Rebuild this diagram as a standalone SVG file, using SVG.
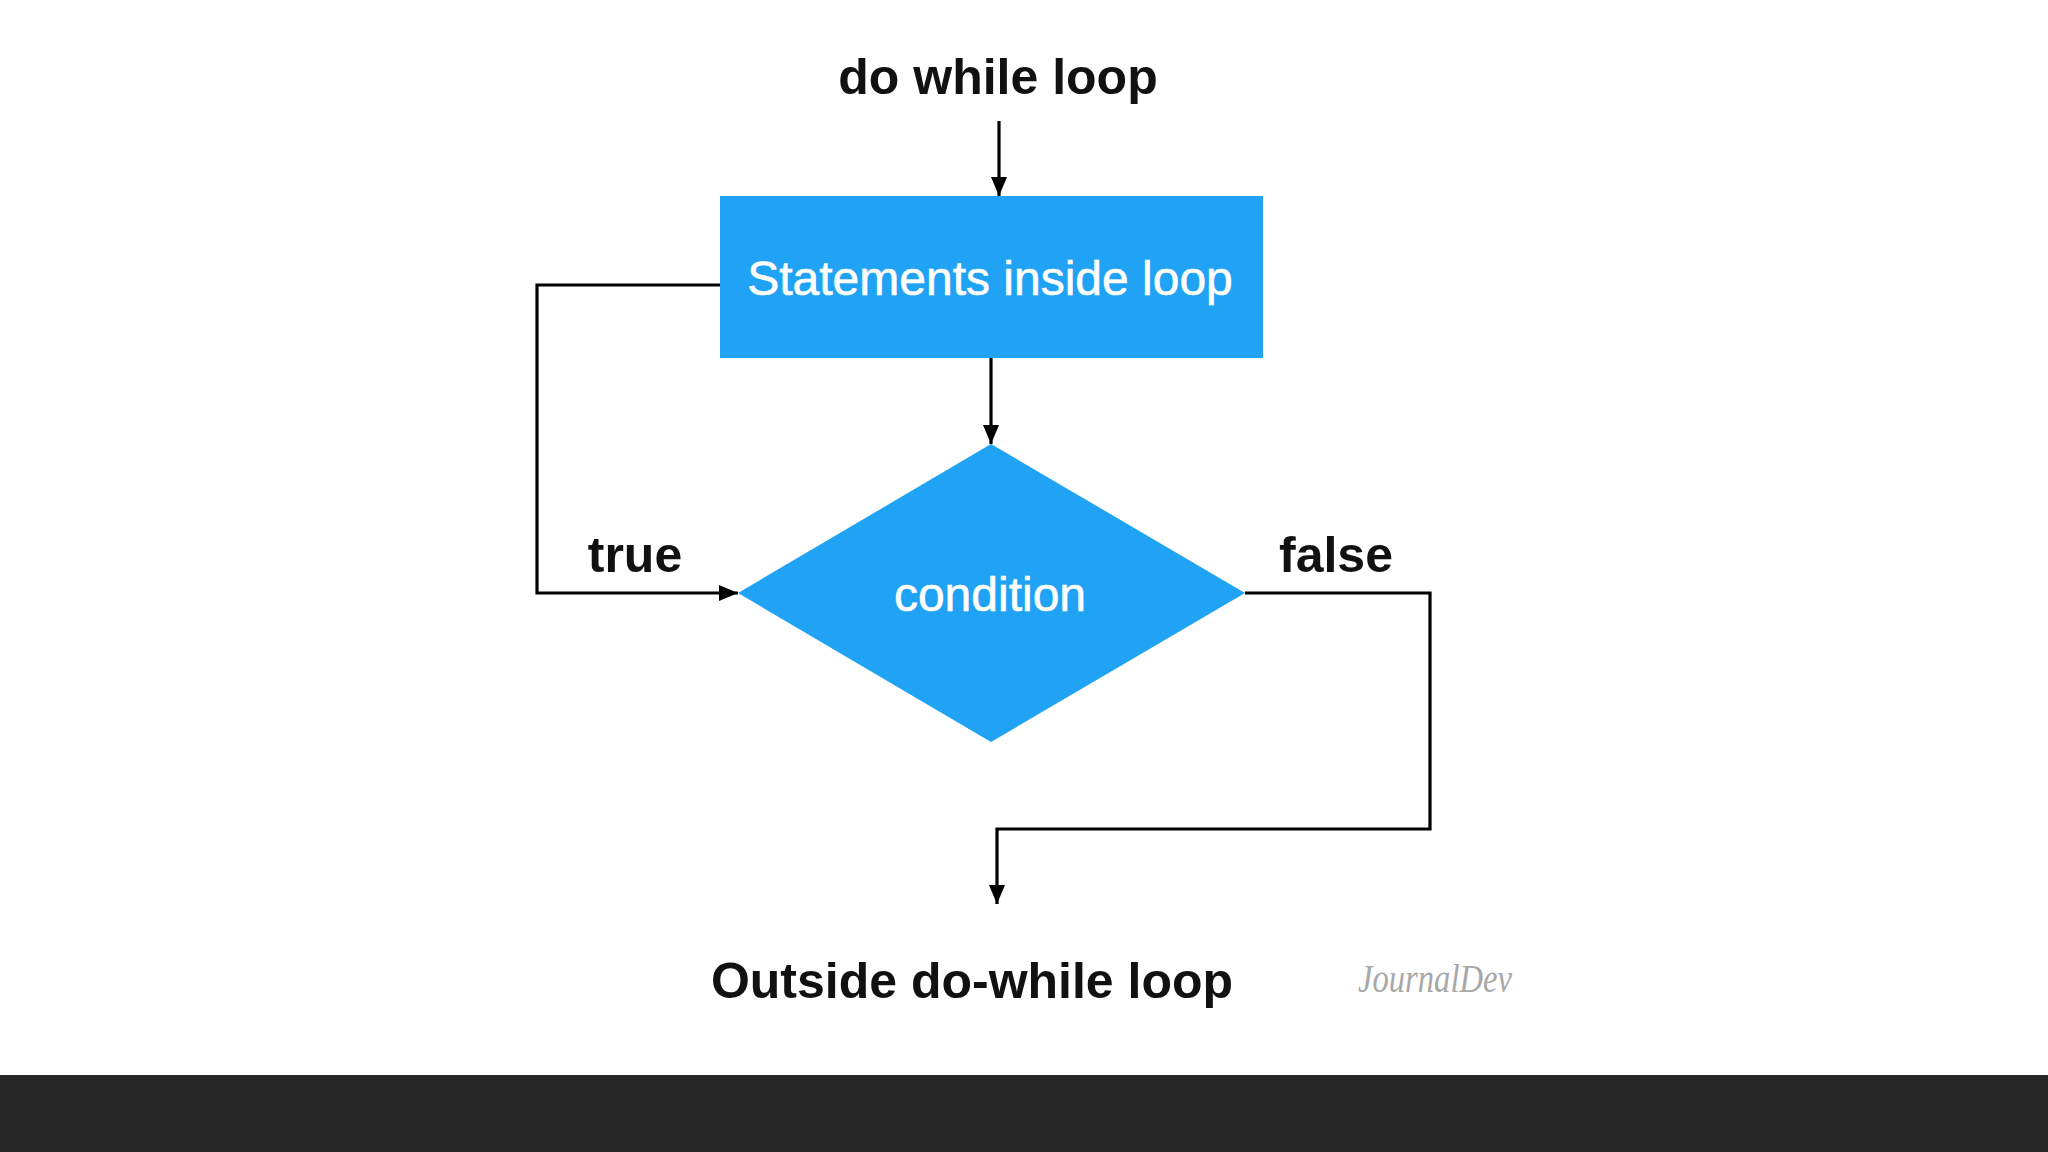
<svg xmlns="http://www.w3.org/2000/svg" width="2048" height="1152" viewBox="0 0 2048 1152">
  <defs>
    <marker id="arrow" markerUnits="userSpaceOnUse" markerWidth="20" markerHeight="18" refX="19" refY="8" orient="auto">
      <path d="M0,0 L19,8 L0,16 z" fill="#000"/>
    </marker>
    <style>
      .lbl { font-family: "Liberation Sans", Arial, Helvetica, sans-serif; font-weight: bold; font-size: 50px; fill: #111; text-anchor: middle; }
      .inner { font-family: "Liberation Sans", Arial, Helvetica, sans-serif; font-size: 48px; fill: #ffffff; stroke: #ffffff; stroke-width: 0.6; text-anchor: middle; }
      .shape { fill: #21a3f5; }
      .conn { fill: none; stroke: #000; stroke-width: 3.2; marker-end: url(#arrow); }
      .sig { font-family: "Liberation Serif", serif; font-style: italic; font-size: 40px; fill: #a8a8a8; font-weight: normal; }
    </style>
  </defs>
  <rect x="0" y="0" width="2048" height="1152" fill="#ffffff"/>

  <g id="connectors">
    <path class="conn" d="M999,121 V196"/>
    <path class="conn" d="M991,358 V444"/>
    <path class="conn" d="M720,285 H537 V593 H738"/>
    <path class="conn" d="M1245,593 H1430 V829 H997 V904"/>
  </g>

  <g id="start">
    <text class="lbl" x="998" y="94">do while loop</text>
  </g>

  <g id="statements">
    <rect class="shape" x="720" y="196" width="543" height="162"/>
    <text class="inner" x="990" y="295">Statements inside loop</text>
  </g>

  <g id="condition">
    <polygon class="shape" points="991,444 1245,593 991,742 738,593"/>
    <text class="inner" x="990" y="611">condition</text>
  </g>

  <g id="label-true">
    <text class="lbl" x="635" y="572">true</text>
  </g>
  <g id="label-false">
    <text class="lbl" x="1336" y="572">false</text>
  </g>

  <g id="end">
    <text class="lbl" x="972" y="998">Outside do-while loop</text>
  </g>

  <g id="signature">
    <text class="sig" x="1358" y="992" textLength="154" lengthAdjust="spacingAndGlyphs">JournalDev</text>
  </g>

  <rect x="0" y="1075" width="2048" height="77" fill="#262626"/>
</svg>
